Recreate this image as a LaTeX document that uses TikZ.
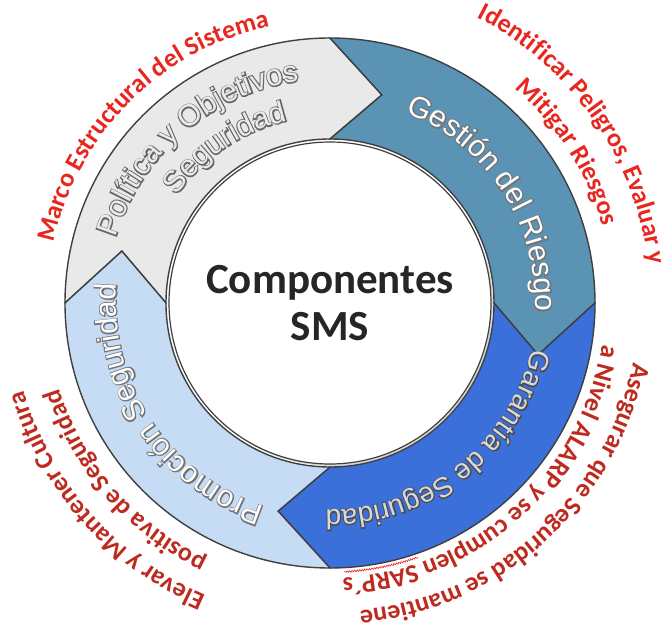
\documentclass[tikz,border=0pt]{standalone}
\usepackage{fontspec}
\newfontfamily\ringfont{Liberation Sans}
\newfontfamily\ringoutfont{Liberation Sans}[FakeBold=7]
\newfontfamily\calfont{Carlito}
\usetikzlibrary{decorations.text,decorations.pathmorphing,shadows}

\definecolor{segline}{HTML}{3F3F3F}
\definecolor{polgray}{HTML}{E9E9E9}
\definecolor{gestblue}{HTML}{5B93B5}
\definecolor{garblue}{HTML}{3B6FD9}
\definecolor{promblue}{HTML}{C6DCF4}
\definecolor{redhi}{HTML}{E8261E}
\definecolor{reddk}{HTML}{BE2A1E}

\newcommand\ringtxt{\ringfont\fontsize{30pt}{36pt}\selectfont}
\newcommand\ringout{\ringoutfont\fontsize{30pt}{36pt}\selectfont}
\newcommand\redtxt{\calfont\bfseries\fontsize{26pt}{30pt}\selectfont}

\begin{document}
\begin{tikzpicture}[x=1pt, y=1pt,
    seg/.style={draw=segline, line width=1.4pt, line join=miter},
    core/.style={circle, draw=segline, line width=1.2pt, fill=white,
      minimum size=322pt, inner sep=0pt, align=center, text=black!85,
      font=\calfont\bfseries\fontsize{43pt}{47pt}\selectfont,
      drop shadow={opacity=0.3, shadow xshift=2pt, shadow yshift=-2pt}},
    curved/.style={decorate, decoration={text along path, text align=center,
      text color=#1}}
  ]
  \useasboundingbox (-330,-326) rectangle (342,303);

  % Politica y Objetivos
  \draw[seg, fill=polgray] (180:265pt) arc[start angle=180, end angle=90, radius=265pt]
    -- (76:214.5pt) -- (90:164pt) arc[start angle=90, end angle=180, radius=164pt]
    -- (166:214.5pt) -- cycle;
  % Gestion del Riesgo
  \draw[seg, fill=gestblue] (90:265pt) arc[start angle=90, end angle=0, radius=265pt]
    -- (-14:214.5pt) -- (0:164pt) arc[start angle=0, end angle=90, radius=164pt]
    -- (76:214.5pt) -- cycle;
  % Garantia de Seguridad
  \draw[seg, fill=garblue] (0:265pt) arc[start angle=0, end angle=-90, radius=265pt]
    -- (-104:214.5pt) -- (-90:164pt) arc[start angle=-90, end angle=0, radius=164pt]
    -- (-14:214.5pt) -- cycle;
  % Promocion Seguridad
  \draw[seg, fill=promblue] (-90:265pt) arc[start angle=-90, end angle=-180, radius=265pt]
    -- (166:214.5pt) -- (180:164pt) arc[start angle=180, end angle=270, radius=164pt]
    -- (-104:214.5pt) -- cycle;

  % centre
  \node[core] (sms) at (0,0) {Componentes\\SMS};

  % ring labels, dark pass then light pass
  \path[curved=black!60, decoration={text={|\ringout|Política y Objetivos}}]
    (190.5:224pt) arc[start angle=190.5, end angle=70.5, radius=224pt];
  \path[curved=black!8, decoration={text={|\ringtxt|Política y Objetivos}}]
    (190.5:224pt) arc[start angle=190.5, end angle=70.5, radius=224pt];
  \path[curved=black!60, decoration={text={|\ringout|Seguridad}}]
    (184:187pt) arc[start angle=184, end angle=64, radius=187pt];
  \path[curved=black!8, decoration={text={|\ringtxt|Seguridad}}]
    (184:187pt) arc[start angle=184, end angle=64, radius=187pt];
  \path[curved=black!55, decoration={text={|\ringout|Gestión del Riesgo}}]
    (93:205pt) arc[start angle=93, end angle=-27, radius=205pt];
  \path[curved=white, decoration={text={|\ringtxt|Gestión del Riesgo}}]
    (93:205pt) arc[start angle=93, end angle=-27, radius=205pt];
  \path[curved=black!70, decoration={text={|\ringoutfont\fontsize{28pt}{34pt}\selectfont|Garantía de Seguridad}}]
    (8:207pt) arc[start angle=8, end angle=-112, radius=207pt];
  \path[curved=black!15, decoration={text={|\ringfont\fontsize{28pt}{34pt}\selectfont|Garantía de Seguridad}}]
    (8:207pt) arc[start angle=8, end angle=-112, radius=207pt];
  \path[curved=black!55, decoration={text={|\ringout|Promoción Seguridad}}]
    (-86.5:214pt) arc[start angle=-86.5, end angle=-206.5, radius=214pt];
  \path[curved=white, decoration={text={|\ringtxt|Promoción Seguridad}}]
    (-86.5:214pt) arc[start angle=-86.5, end angle=-206.5, radius=214pt];

  % outer red labels
  \path[curved=redhi, decoration={text={|\redtxt|Marco Estructural del Sistema}}]
    (195:283pt) arc[start angle=195, end angle=75, radius=283pt];
  \path[curved=redhi, decoration={text={|\redtxt|Identificar Peligros, Evaluar y}}]
    (94.8:321pt) arc[start angle=94.8, end angle=-25.2, radius=321pt];
  \path[curved=redhi, decoration={text={|\redtxt|Mitigar Riesgos}}]
    (92.5:283pt) arc[start angle=92.5, end angle=-27.5, radius=283pt];
  \path[curved=reddk, decoration={text={|\redtxt|Asegurar que Seguridad se mantiene}}]
    (12.2:309pt) arc[start angle=12.2, end angle=-107.8, radius=309pt];
  \path[curved=reddk, decoration={text={|\redtxt|a Nivel ALARP y se cumplen SARP´s}}]
    (12:275pt) arc[start angle=12, end angle=-108, radius=275pt];
  \path[curved=reddk, decoration={text={|\redtxt|Elevar y Mantener Cultura}}]
    (-78.5:318pt) arc[start angle=-78.5, end angle=-198.5, radius=318pt];
  \path[curved=reddk, decoration={text={|\redtxt|positiva de Seguridad}}]
    (-79:284pt) arc[start angle=-79, end angle=-199, radius=284pt];
  % spell-check squiggle
  \draw[redhi, line width=0.6pt, decorate,
    decoration={snake, amplitude=0.8pt, segment length=2.5pt}]
    (-71:269pt) arc[start angle=-71, end angle=-87, radius=269pt];
\end{tikzpicture}
\end{document}
